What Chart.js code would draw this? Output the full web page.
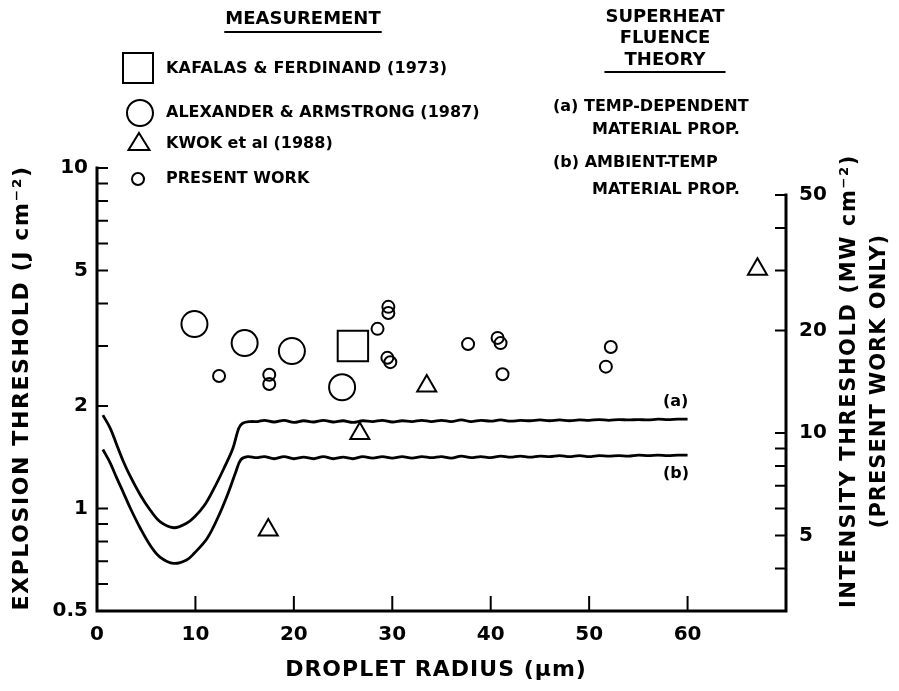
<!DOCTYPE html>
<html>
<head>
<meta charset="utf-8">
<script src="https://cdn.jsdelivr.net/npm/chart.js@4/dist/chart.umd.min.js"></script>
<style>
  html, body { margin: 0; padding: 0; background: #fff; }
  canvas { display: block; }
</style>
</head>
<body>
<canvas id="grafico" width="899" height="691"></canvas>
<script>
// droplet radius (um) vs explosion threshold (J cm^-2)
// (a) temp-dependent material prop. : dip then rise
const riseAX = [0.6, 1.35, 2.0, 2.7, 3.4, 4.4, 5.4, 6.4, 7.8, 9.1, 9.9, 10.9, 11.9, 12.9, 13.8, 14.4, 14.8, 15.6, 16.3];
const riseAY = [1.88, 1.72, 1.54, 1.37, 1.24, 1.096, 0.99, 0.915, 0.878, 0.905, 0.944, 1.02, 1.147, 1.313, 1.50, 1.72, 1.78, 1.80, 1.80];
// (b) ambient-temp material prop.
const riseBX = [0.6, 1.35, 2.0, 2.7, 3.4, 4.4, 5.4, 6.4, 7.8, 9.1, 9.9, 11.2, 12.25, 13.25, 14.1, 14.6, 15.3, 16.2];
const riseBY = [1.49, 1.36, 1.23, 1.11, 1.00, 0.875, 0.78, 0.72, 0.69, 0.706, 0.74, 0.818, 0.936, 1.096, 1.28, 1.39, 1.42, 1.41];
// wavy plateau of both curves
const plateauX = [17, 18, 19, 20, 21, 22, 23, 24, 25, 26, 27, 28, 29, 30, 31, 32, 33, 34, 35, 36, 37, 38,
  39, 40, 41, 42, 43, 44, 45, 46, 47, 48, 49, 50, 51, 52, 53, 54, 55, 56, 57, 58, 59, 60];
const plateauA = [1.815, 1.795, 1.815, 1.79, 1.81, 1.795, 1.815, 1.795, 1.81, 1.79, 1.81, 1.80, 1.815, 1.795,
  1.81, 1.80, 1.815, 1.80, 1.815, 1.80, 1.82, 1.80, 1.815, 1.805, 1.82, 1.805, 1.815, 1.81, 1.82, 1.81,
  1.82, 1.81, 1.82, 1.815, 1.825, 1.815, 1.825, 1.82, 1.825, 1.82, 1.83, 1.825, 1.83, 1.83];
const plateauB = [1.42, 1.40, 1.42, 1.40, 1.415, 1.40, 1.42, 1.40, 1.415, 1.40, 1.42, 1.405, 1.42, 1.405,
  1.42, 1.405, 1.42, 1.41, 1.42, 1.405, 1.425, 1.41, 1.42, 1.41, 1.425, 1.415, 1.425, 1.415, 1.425, 1.42,
  1.43, 1.42, 1.43, 1.42, 1.43, 1.425, 1.43, 1.425, 1.435, 1.43, 1.435, 1.43, 1.435, 1.435];

const kafalasX = [26.0];
const kafalasY = [3.0];
const alexanderX = [9.9, 15.0, 19.8, 24.9];
const alexanderY = [3.48, 3.06, 2.90, 2.27];
const kwokX = [17.4, 26.7, 33.5, 67.1];
const kwokY = [0.865, 1.66, 2.29, 5.04];
const presentX = [12.4, 17.5, 17.5, 28.5, 29.6, 29.6, 29.5, 29.8, 37.7, 40.7, 41.0, 41.2, 51.7, 52.2];
const presentY = [2.45, 2.47, 2.32, 3.37, 3.91, 3.75, 2.77, 2.69, 3.04, 3.17, 3.06, 2.48, 2.61, 2.98];

const xTicks = [0, 10, 20, 30, 40, 50, 60];
const leftTicks = [0.5, 0.6, 0.7, 0.8, 0.9, 1, 2, 3, 4, 5, 6, 7, 8, 9, 10];
const leftLabels = [0.5, 1, 2, 5, 10];
const rightTicks = [3, 4, 5, 6, 7, 8, 9, 10, 20, 30, 40, 50];
const rightLabels = [5, 10, 20, 50];

const FONT = '"DejaVu Sans"';
const pts = (xs, ys) => xs.map((x, i) => ({ x: x, y: ys[i] }));

function txt(ctx, s, x, y, size, opt) {
  opt = opt || {};
  ctx.save();
  ctx.font = 'bold ' + size + 'px ' + FONT;
  ctx.letterSpacing = (opt.ls || 0) + 'px';
  ctx.textAlign = opt.align || 'left';
  ctx.textBaseline = 'middle';
  ctx.fillStyle = '#000';
  ctx.translate(x, y);
  if (opt.rot) ctx.rotate(opt.rot);
  ctx.fillText(s, 0, 0);
  const w = ctx.measureText(s).width;
  ctx.restore();
  return w;
}

const decor = {
  id: 'decor',
  afterDraw(chart) {
    const ctx = chart.ctx;
    const a = chart.chartArea;
    const y2 = chart.scales.y2;
    ctx.save();
    ctx.strokeStyle = '#000';
    ctx.lineCap = 'square';

    // axes lines
    ctx.lineWidth = 3;
    ctx.beginPath();
    ctx.moveTo(a.left, a.top);
    ctx.lineTo(a.left, a.bottom);
    ctx.lineTo(a.right, a.bottom);
    ctx.lineTo(a.right, y2.getPixelForValue(50));
    ctx.stroke();

    // inward ticks
    ctx.lineWidth = 2;
    ctx.beginPath();
    chart.scales.x.ticks.forEach(t => {
      if (t.value <= 0) return;
      const px = chart.scales.x.getPixelForValue(t.value);
      ctx.moveTo(px, a.bottom);
      ctx.lineTo(px, a.bottom - 14);
    });
    chart.scales.y.ticks.forEach(t => {
      if (t.value <= 0.5) return;
      const py = chart.scales.y.getPixelForValue(t.value);
      ctx.moveTo(a.left, py);
      ctx.lineTo(a.left + 10, py);
    });
    y2.ticks.forEach(t => {
      if (t.value <= 3) return;
      const py = y2.getPixelForValue(t.value);
      ctx.moveTo(a.right, py);
      ctx.lineTo(a.right - 10, py);
    });
    ctx.stroke();

    // axis titles
    txt(ctx, 'DROPLET RADIUS (\u03bcm)', 436, 670, 22, { align: 'center', ls: 1 });
    txt(ctx, 'EXPLOSION THRESHOLD (J cm\u207b\u00b2)', 22, 388, 22, { align: 'center', ls: 1.6, rot: -Math.PI / 2 });
    txt(ctx, 'INTENSITY THRESHOLD (MW cm\u207b\u00b2)', 850, 381, 21, { align: 'center', ls: 1.6, rot: -Math.PI / 2 });
    txt(ctx, '(PRESENT WORK ONLY)', 880, 381, 21, { align: 'center', ls: 1, rot: -Math.PI / 2 });

    // headers
    ctx.lineWidth = 2;
    let w = txt(ctx, 'MEASUREMENT', 303, 19, 18, { align: 'center' });
    ctx.beginPath();
    ctx.moveTo(303 - w / 2, 32);
    ctx.lineTo(303 + w / 2, 32);
    ctx.stroke();
    w = txt(ctx, 'SUPERHEAT', 665, 17, 18, { align: 'center' });
    txt(ctx, 'FLUENCE', 665, 38, 18, { align: 'center' });
    txt(ctx, 'THEORY', 665, 60, 18, { align: 'center' });
    ctx.beginPath();
    ctx.moveTo(665 - w / 2, 72);
    ctx.lineTo(665 + w / 2, 72);
    ctx.stroke();

    // measurement legend
    ctx.lineWidth = 2;
    ctx.strokeRect(123, 53, 30, 30);
    ctx.beginPath();
    ctx.arc(140, 113, 13, 0, Math.PI * 2);
    ctx.stroke();
    ctx.beginPath();
    ctx.moveTo(139, 133);
    ctx.lineTo(149.5, 150);
    ctx.lineTo(128.5, 150);
    ctx.closePath();
    ctx.stroke();
    ctx.beginPath();
    ctx.arc(138, 179, 6, 0, Math.PI * 2);
    ctx.stroke();
    txt(ctx, 'KAFALAS & FERDINAND (1973)', 166, 69, 16, { ls: 0.2 });
    txt(ctx, 'ALEXANDER & ARMSTRONG (1987)', 166, 113, 16);
    txt(ctx, 'KWOK et al (1988)', 166, 144, 16);
    txt(ctx, 'PRESENT WORK', 166, 179, 16);

    // theory legend
    txt(ctx, '(a) TEMP-DEPENDENT', 553, 107, 16);
    txt(ctx, 'MATERIAL PROP.', 592, 130, 16);
    txt(ctx, '(b) AMBIENT-TEMP', 553, 163, 16);
    txt(ctx, 'MATERIAL PROP.', 592, 190, 16);

    // curve labels
    txt(ctx, '(a)', 663, 402, 16);
    txt(ctx, '(b)', 663, 474, 16);
    ctx.restore();
  }
};

const lineStyle = { borderColor: '#000', borderWidth: 2.8, pointRadius: 0, showLine: true,
  tension: 0.35, fill: false };
const markStyle = { borderColor: '#000', backgroundColor: 'rgba(0,0,0,0)', borderWidth: 2 };

new Chart(document.getElementById('grafico'), {
  type: 'scatter',
  data: {
    datasets: [
      Object.assign({ label: '(a)', data: pts(riseAX.concat(plateauX), riseAY.concat(plateauA)) }, lineStyle),
      Object.assign({ label: '(b)', data: pts(riseBX.concat(plateauX), riseBY.concat(plateauB)) }, lineStyle),
      Object.assign({ label: 'KAFALAS & FERDINAND (1973)', data: pts(kafalasX, kafalasY),
        pointStyle: 'rect', pointRadius: 21.5 }, markStyle),
      Object.assign({ label: 'ALEXANDER & ARMSTRONG (1987)', data: pts(alexanderX, alexanderY),
        pointStyle: 'circle', pointRadius: 13 }, markStyle),
      Object.assign({ label: 'KWOK et al (1988)', data: pts(kwokX, kwokY),
        pointStyle: 'triangle', pointRadius: 11 }, markStyle),
      Object.assign({ label: 'PRESENT WORK', data: pts(presentX, presentY),
        pointStyle: 'circle', pointRadius: 6 }, markStyle)
    ]
  },
  options: {
    responsive: false,
    animation: false,
    devicePixelRatio: 1,
    layout: { padding: { top: 168, left: 0, right: 0, bottom: 0 } },
    plugins: { legend: { display: false }, tooltip: { enabled: false } },
    scales: {
      x: {
        type: 'linear', position: 'bottom', min: 0, max: 70,
        grid: { display: false, drawTicks: false }, border: { display: false },
        afterBuildTicks: s => { s.ticks = xTicks.map(v => ({ value: v })); },
        afterFit: s => { s.height = 80; },
        ticks: { color: '#000', padding: 12, maxRotation: 0, autoSkip: false,
          font: { family: FONT, size: 20, weight: 'bold' } }
      },
      y: {
        type: 'logarithmic', position: 'left', min: 0.5, max: 10,
        grid: { display: false, drawTicks: false }, border: { display: false },
        afterBuildTicks: s => { s.ticks = leftTicks.map(v => ({ value: v })); },
        afterFit: s => { s.width = 97; },
        ticks: { color: '#000', padding: 9, autoSkip: false,
          font: { family: FONT, size: 20, weight: 'bold' },
          callback: v => leftLabels.includes(v) ? String(v) : '' }
      },
      y2: {
        type: 'logarithmic', position: 'right', min: 3, max: 60,
        grid: { display: false, drawTicks: false }, border: { display: false },
        afterBuildTicks: s => { s.ticks = rightTicks.map(v => ({ value: v })); },
        afterFit: s => { s.width = 113; },
        ticks: { color: '#000', padding: 13, autoSkip: false,
          font: { family: FONT, size: 20, weight: 'bold' },
          callback: v => rightLabels.includes(v) ? String(v) : '' }
      }
    }
  },
  plugins: [decor]
});
</script>
</body>
</html>
